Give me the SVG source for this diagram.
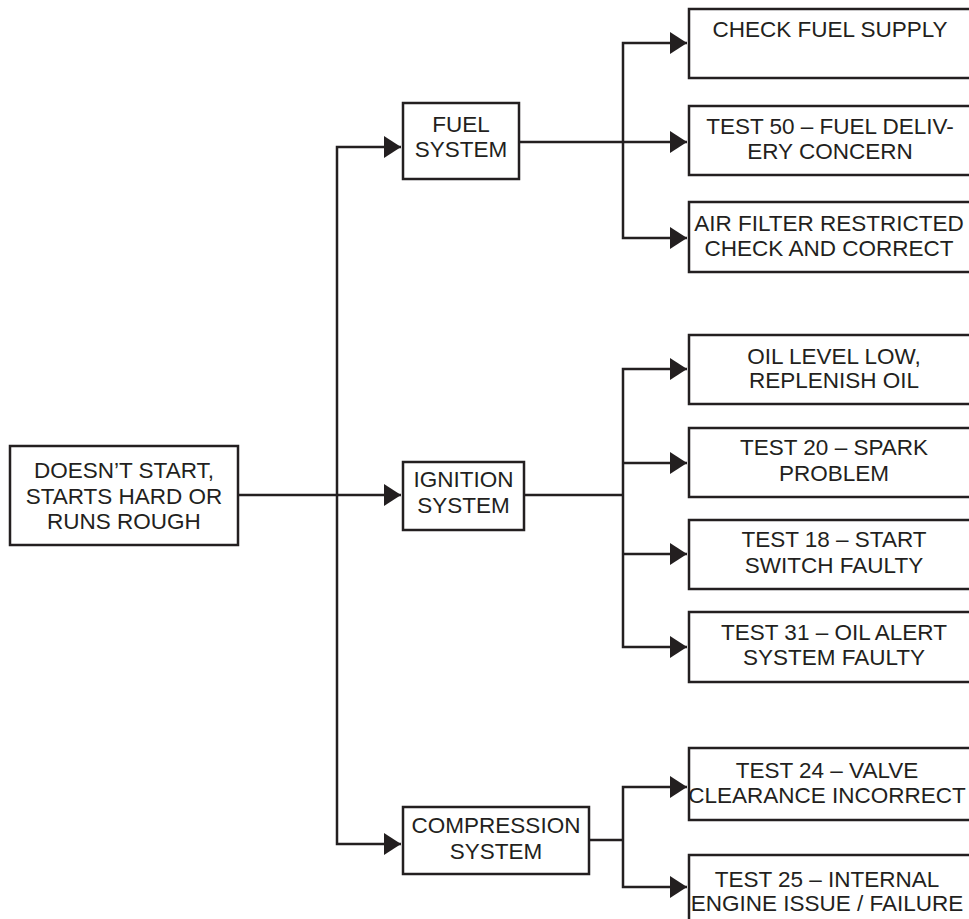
<svg xmlns="http://www.w3.org/2000/svg" width="969" height="919" viewBox="0 0 969 919">
<style>
.box{fill:#fff;stroke:#231f20;stroke-width:2.5}
.ln{fill:none;stroke:#231f20;stroke-width:2.5}
text{font-family:"Liberation Sans",Arial,sans-serif;font-size:22.5px;fill:#231f20;text-anchor:middle}
</style>
<defs>
<marker id="ah" markerUnits="userSpaceOnUse" markerWidth="18" markerHeight="22" refX="17" refY="11" orient="auto">
<path d="M0,0 L17,11 L0,22 Z" fill="#231f20"/>
</marker>
</defs>
<rect width="969" height="919" fill="#fff"/>
<g id="connectors">
<path class="ln" d="M238,495 H401" marker-end="url(#ah)"/>
<path class="ln" d="M337,495 V147 H401" marker-end="url(#ah)"/>
<path class="ln" d="M337,495 V844 H401" marker-end="url(#ah)"/>
<path class="ln" d="M519,142 H623"/>
<path class="ln" d="M623,142 V43 H687" marker-end="url(#ah)"/>
<path class="ln" d="M623,142 H687" marker-end="url(#ah)"/>
<path class="ln" d="M623,142 V238 H687" marker-end="url(#ah)"/>
<path class="ln" d="M524,495 H623"/>
<path class="ln" d="M623,495 V369 H687" marker-end="url(#ah)"/>
<path class="ln" d="M623,463 H687" marker-end="url(#ah)"/>
<path class="ln" d="M623,554 H687" marker-end="url(#ah)"/>
<path class="ln" d="M623,495 V647 H687" marker-end="url(#ah)"/>
<path class="ln" d="M589,840 H623"/>
<path class="ln" d="M623,840 V787 H687" marker-end="url(#ah)"/>
<path class="ln" d="M623,840 V887 H687" marker-end="url(#ah)"/>
</g>
<g id="root">
<rect class="box" x="10" y="446" width="228" height="99"/>
<text x="124" y="478">DOESN’T START,</text>
<text x="124" y="504">STARTS HARD OR</text>
<text x="124" y="529">RUNS ROUGH</text>
</g>
<g id="fuel">
<rect class="box" x="403" y="103" width="116" height="76"/>
<text x="461" y="132">FUEL</text>
<text x="461" y="157">SYSTEM</text>
</g>
<g id="ignition">
<rect class="box" x="403" y="462" width="121" height="68"/>
<text x="463.5" y="487">IGNITION</text>
<text x="463.5" y="513">SYSTEM</text>
</g>
<g id="compression">
<rect class="box" x="403" y="807" width="186" height="67"/>
<text x="496" y="833">COMPRESSION</text>
<text x="496" y="859">SYSTEM</text>
</g>
<g id="check-fuel">
<rect class="box" x="689" y="9" width="290" height="69"/>
<text x="830" y="37">CHECK FUEL SUPPLY</text>
</g>
<g id="test50">
<rect class="box" x="689" y="106" width="290" height="69"/>
<text x="830" y="134">TEST 50 – FUEL DELIV-</text>
<text x="830" y="159">ERY CONCERN</text>
</g>
<g id="air-filter">
<rect class="box" x="689" y="202" width="290" height="70"/>
<text x="829" y="231">AIR FILTER RESTRICTED</text>
<text x="829" y="256">CHECK AND CORRECT</text>
</g>
<g id="oil-level">
<rect class="box" x="689" y="335" width="290" height="69"/>
<text x="834" y="364">OIL LEVEL LOW,</text>
<text x="834" y="388">REPLENISH OIL</text>
</g>
<g id="test20">
<rect class="box" x="689" y="428" width="290" height="69"/>
<text x="834" y="455">TEST 20 – SPARK</text>
<text x="834" y="481">PROBLEM</text>
</g>
<g id="test18">
<rect class="box" x="689" y="520" width="290" height="69"/>
<text x="834" y="547">TEST 18 – START</text>
<text x="834" y="573">SWITCH FAULTY</text>
</g>
<g id="test31">
<rect class="box" x="689" y="612" width="290" height="70"/>
<text x="834" y="640">TEST 31 – OIL ALERT</text>
<text x="834" y="665">SYSTEM FAULTY</text>
</g>
<g id="test24">
<rect class="box" x="689" y="748" width="290" height="72"/>
<text x="827" y="778">TEST 24 – VALVE</text>
<text x="827" y="803">CLEARANCE INCORRECT</text>
</g>
<g id="test25">
<rect class="box" x="689" y="855" width="290" height="80"/>
<text x="827" y="887">TEST 25 – INTERNAL</text>
<text x="827" y="911">ENGINE ISSUE / FAILURE</text>
</g>
</svg>
